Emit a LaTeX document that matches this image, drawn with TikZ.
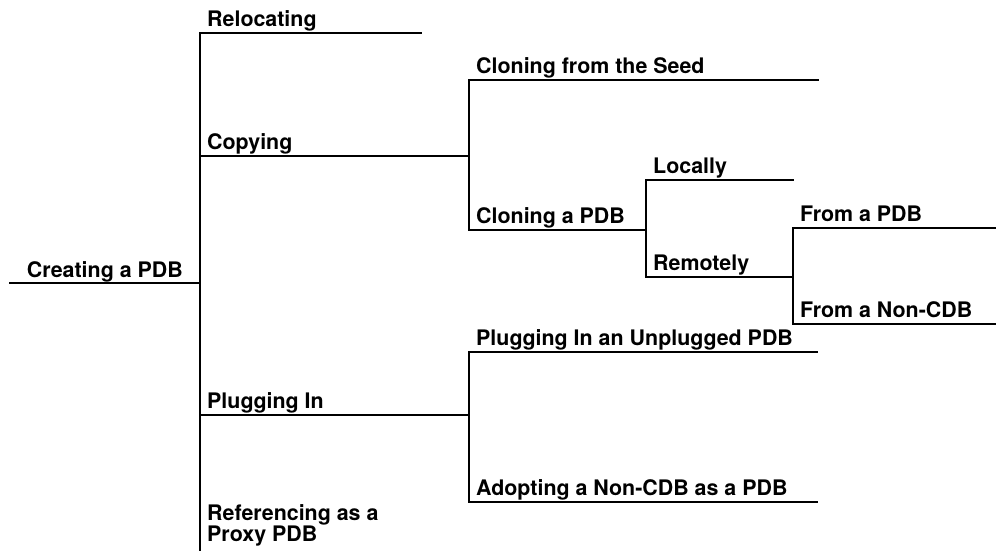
\documentclass[tikz,border=0pt]{standalone}
\usepackage{fontspec}
\newfontfamily\lblfont{TeX Gyre Heros}
\begin{document}
\begin{tikzpicture}[x=1pt,y=-1pt,
  branch/.style={line width=1.1pt, line cap=rect},
  lbl/.style={anchor=base west, inner sep=0pt, align=left, font=\lblfont\bfseries\fontsize{21.4}{21}\selectfont}]
\useasboundingbox (0,0) rectangle (996,550);
% junction coordinates
\coordinate (r0) at (10,283);
\coordinate (r1) at (200,283);
\coordinate (v1t) at (200,33);
\coordinate (v1b) at (200,550);
\coordinate (relE) at (421,33);
\coordinate (copS) at (200,156);
\coordinate (copE) at (469,156);
\coordinate (v2t) at (469,80);
\coordinate (v2b) at (469,230);
\coordinate (seedE) at (818,80);
\coordinate (cpdbE) at (646,230);
\coordinate (v3t) at (646,180);
\coordinate (v3b) at (646,277);
\coordinate (locE) at (793,180);
\coordinate (remE) at (793,277);
\coordinate (v4t) at (793,228);
\coordinate (v4b) at (793,324);
\coordinate (fpdbE) at (996,228);
\coordinate (fncdbE) at (996,324);
\coordinate (plgS) at (200,415);
\coordinate (plgE) at (469,415);
\coordinate (v5t) at (469,352);
\coordinate (v5b) at (469,502);
\coordinate (unpE) at (817,352);
\coordinate (adpE) at (817,502);
% lines
\draw[branch] (r0) -- (r1);
\draw[branch] (v1b) -- (v1t) -- (relE);
\draw[branch] (copS) -- (copE);
\draw[branch] (seedE) -- (v2t) -- (v2b) -- (cpdbE);
\draw[branch] (locE) -- (v3t) -- (v3b) -- (remE);
\draw[branch] (fpdbE) -- (v4t) -- (v4b) -- (fncdbE);
\draw[branch] (plgS) -- (plgE);
\draw[branch] (unpE) -- (v5t) -- (v5b) -- (adpE);
% labels
\node[lbl, anchor=base east] (root) at (183,277.5) {Creating a PDB};
\node[lbl] (reloc) at (207,26.3) {Relocating};
\node[lbl] (copy) at (207,149.5) {Copying};
\node[lbl] (seed) at (476,73.5) {Cloning from the Seed};
\node[lbl] (cpdb) at (476,223.5) {Cloning a PDB};
\node[lbl] (loc) at (653,173.5) {Locally};
\node[lbl] (rem) at (653,270.5) {Remotely};
\node[lbl] (fpdb) at (800,221.5) {From a PDB};
\node[lbl] (fncdb) at (800,317.5) {From a Non-CDB};
\node[lbl] (plug) at (207,408.5) {Plugging In};
\node[lbl] (unp) at (476,345.5) {Plugging In an Unplugged PDB};
\node[lbl] (adp) at (476,495.5) {Adopting a Non-CDB as a PDB};
\node[lbl] (ref) at (207,541.7) {Referencing as a\\Proxy PDB};
\end{tikzpicture}
\end{document}
